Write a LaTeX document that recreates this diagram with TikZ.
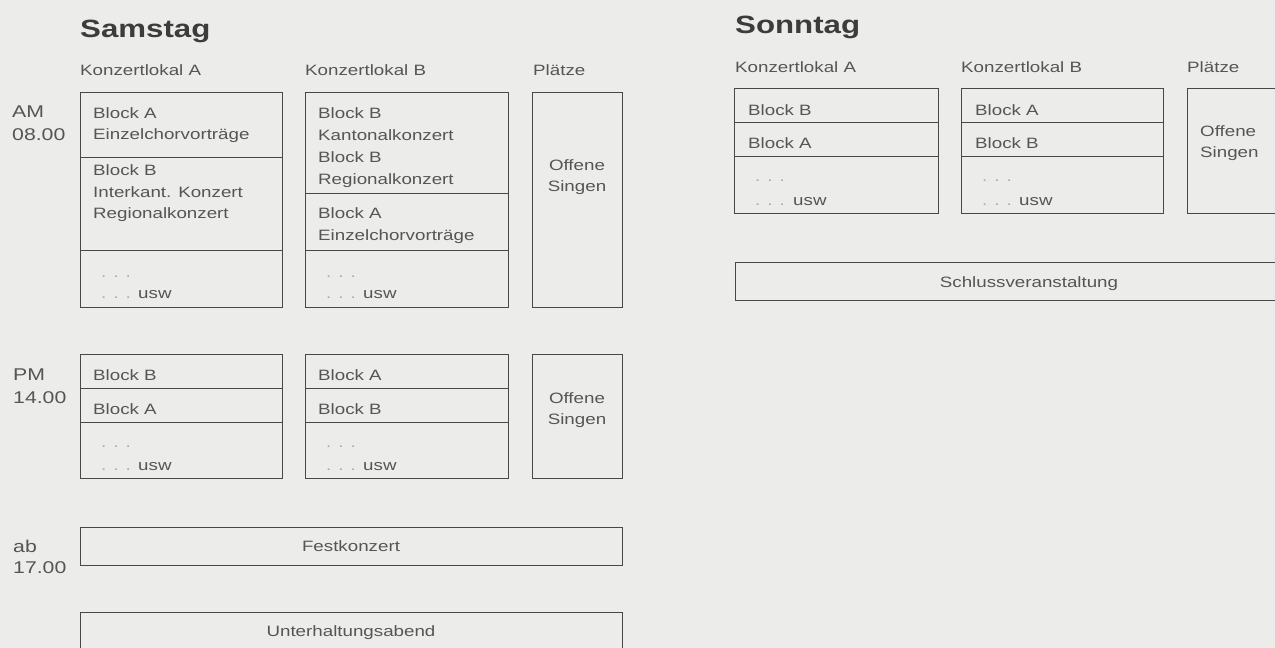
\documentclass[tikz,border=0pt]{standalone}
\usepackage{fontspec}
\setmainfont[FakeStretch=1.25]{Liberation Sans}
\definecolor{bg}{RGB}{236,236,234}
\definecolor{ink}{RGB}{72,72,72}
\definecolor{txtgrey}{RGB}{85,85,85}
\definecolor{titlegrey}{RGB}{60,60,60}
\definecolor{dotgrey}{RGB}{170,170,170}
\tikzset{
  box/.style={draw=ink, line width=1pt},
  txt/.style={anchor=base west, inner sep=0pt, text=txtgrey, font=\fontsize{15}{18}\selectfont},
  ctxt/.style={anchor=base, inner sep=0pt, text=txtgrey, font=\fontsize{15}{18}\selectfont},
  timelbl/.style={anchor=base west, inner sep=0pt, text=txtgrey, font=\fontsize{17}{20}\selectfont},
  daytitle/.style={anchor=base west, inner sep=0pt, text=titlegrey, font=\fontsize{25}{30}\selectfont\bfseries},
  dotstxt/.style={anchor=base west, inner sep=0pt, text=dotgrey, font=\fontsize{15}{18}\selectfont},
}
\begin{document}
\begin{tikzpicture}[x=1pt,y=-1pt]
\useasboundingbox (0,0) rectangle (1275,648);
\clip (0,0) rectangle (1275,648);
\fill[bg] (0,0) rectangle (1275,648);

% ---------------- Samstag ----------------
\node[daytitle] (sat) at (80,37) {Samstag};
\node[txt] (satKA) at (80,75) {Konzertlokal A};
\node[txt] (satKB) at (305,75) {Konzertlokal B};
\node[txt] (satPl) at (533,75) {Plätze};

% AM
\node[timelbl] (am) at (12,117) {AM};
\node[timelbl] (am8) at (12,140) {08.00};

\draw[box] (80,92) rectangle (282,307);
\draw[box] (80,157) -- (282,157);
\draw[box] (80,250) -- (282,250);
\node[txt] (a1) at (93,118) {Block A};
\node[txt] (a2) at (93,139) {Einzelchorvorträge};
\node[txt] (a3) at (93,175) {Block B};
\node[txt] (a4) at (93,197) {Interkant. Konzert};
\node[txt] (a5) at (93,218) {Regionalkonzert};
\node[dotstxt] (a6) at (101,277) {. . .};
\node[dotstxt] (a7) at (101,298) {. . .};
\node[txt] (a8) at (138,298) {usw};

\draw[box] (305,92) rectangle (508,307);
\draw[box] (305,193) -- (508,193);
\draw[box] (305,250) -- (508,250);
\node[txt] (b1) at (318,118) {Block B};
\node[txt] (b2) at (318,140) {Kantonalkonzert};
\node[txt] (b3) at (318,162) {Block B};
\node[txt] (b4) at (318,184) {Regionalkonzert};
\node[txt] (b5) at (318,218) {Block A};
\node[txt] (b6) at (318,240) {Einzelchorvorträge};
\node[dotstxt] (b7) at (326,277) {. . .};
\node[dotstxt] (b8) at (326,298) {. . .};
\node[txt] (b9) at (363,298) {usw};

\draw[box] (532,92) rectangle (622,307);
\node[ctxt] (p1) at (577,170) {Offene};
\node[ctxt] (p2) at (577,191) {Singen};

% PM
\node[timelbl] (pm) at (13,380) {PM};
\node[timelbl] (pm14) at (13,403) {14.00};

\draw[box] (80,354) rectangle (282,478);
\draw[box] (80,388) -- (282,388);
\draw[box] (80,422) -- (282,422);
\node[txt] (c1) at (93,380) {Block B};
\node[txt] (c2) at (93,414) {Block A};
\node[dotstxt] (c3) at (101,447) {. . .};
\node[dotstxt] (c4) at (101,470) {. . .};
\node[txt] (c5) at (138,470) {usw};

\draw[box] (305,354) rectangle (508,478);
\draw[box] (305,388) -- (508,388);
\draw[box] (305,422) -- (508,422);
\node[txt] (d1) at (318,380) {Block A};
\node[txt] (d2) at (318,414) {Block B};
\node[dotstxt] (d3) at (326,447) {. . .};
\node[dotstxt] (d4) at (326,470) {. . .};
\node[txt] (d5) at (363,470) {usw};

\draw[box] (532,354) rectangle (622,478);
\node[ctxt] (q1) at (577,403) {Offene};
\node[ctxt] (q2) at (577,424) {Singen};

% ab 17.00
\node[timelbl] (ab) at (13,552) {ab};
\node[timelbl] (ab17) at (13,573) {17.00};
\draw[box] (80,527) rectangle (622,565);
\node[ctxt] (fest) at (351,551) {Festkonzert};

\draw[box] (80,612) rectangle (622,660);
\node[ctxt] (unt) at (351,636) {Unterhaltungsabend};

% ---------------- Sonntag ----------------
\node[daytitle] (sun) at (735,33) {Sonntag};
\node[txt] (sunKA) at (735,72) {Konzertlokal A};
\node[txt] (sunKB) at (961,72) {Konzertlokal B};
\node[txt] (sunPl) at (1187,72) {Plätze};

\draw[box] (734,88) rectangle (938,213);
\draw[box] (734,122) -- (938,122);
\draw[box] (734,156) -- (938,156);
\node[txt] (e1) at (748,115) {Block B};
\node[txt] (e2) at (748,148) {Block A};
\node[dotstxt] (e3) at (755,181) {. . .};
\node[dotstxt] (e4) at (755,205) {. . .};
\node[txt] (e5) at (793,205) {usw};

\draw[box] (961,88) rectangle (1163,213);
\draw[box] (961,122) -- (1163,122);
\draw[box] (961,156) -- (1163,156);
\node[txt] (f1) at (975,115) {Block A};
\node[txt] (f2) at (975,148) {Block B};
\node[dotstxt] (f3) at (982,181) {. . .};
\node[dotstxt] (f4) at (982,205) {. . .};
\node[txt] (f5) at (1019,205) {usw};

\draw[box] (1187,88) rectangle (1280,213);
\node[txt] (g1) at (1200,136) {Offene};
\node[txt] (g2) at (1200,157) {Singen};

\draw[box] (735,262) rectangle (1290,300);
\node[ctxt] (schl) at (1029,287) {Schlussveranstaltung};
\end{tikzpicture}
\end{document}
